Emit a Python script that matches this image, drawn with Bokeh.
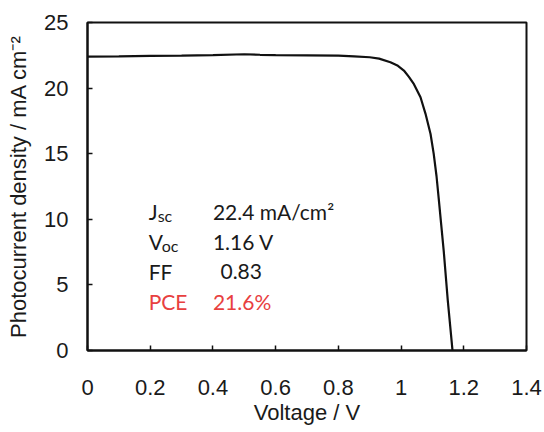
from bokeh.plotting import figure
from bokeh.models import FixedTicker, Range1d, ColumnDataSource
from bokeh.core.properties import value
from bokeh.embed import file_html
from bokeh.resources import INLINE

# ---- data ----
voltage = [0.0, 0.1, 0.2, 0.3, 0.4, 0.5, 0.55, 0.6, 0.7, 0.8, 0.85, 0.9, 0.93,
           0.966, 0.99, 1.009, 1.025, 1.041, 1.062, 1.078, 1.094, 1.104, 1.113,
           1.12, 1.128, 1.136, 1.149, 1.163, 1.17]
current = [22.4, 22.42, 22.45, 22.48, 22.52, 22.58, 22.54, 22.52, 22.5, 22.47,
           22.42, 22.35, 22.25, 21.97, 21.7, 21.34, 20.85, 20.3, 19.3, 18.04,
           16.5, 15.0, 13.3, 11.6, 9.6, 7.6, 3.8, 0.25, -1.5]

x_ticks = [0.0, 0.2, 0.4, 0.6, 0.8, 1.0, 1.2, 1.4]
x_tick_labels = ["0", "0.2", "0.4", "0.6", "0.8", "1", "1.2", "1.4"]
y_ticks = [0, 5, 10, 15, 20, 25]
y_tick_labels = ["0", "5", "10", "15", "20", "25"]

x_title = "Voltage / V"
y_title = "Photocurrent density / mA cm⁻²"

param_names = ["J", "V", "FF", "PCE"]
param_subs = ["sc", "oc", "", ""]
param_values = ["22.4 mA/cm²", "1.16 V", "0.83", "21.6%"]
param_colors = ["#1a1a1a", "#1a1a1a", "#1a1a1a", "#e8403f"]

# ---- layout constants ----
row_y = [10.6, 8.3, 6.0, 3.7]
name_x = [0.195, 0.195, 0.195, 0.195]
value_x = [0.40, 0.40, 0.424, 0.40]
sub_offset = [9, 13, 0, 0]

p = figure(width=544, height=432, output_backend="svg", toolbar_location=None,
           x_range=Range1d(0, 1.4), y_range=Range1d(0, 25),
           min_border_left=87, min_border_right=18, min_border_top=22,
           min_border_bottom=82,
           x_axis_label=x_title, y_axis_label=y_title)
p.background_fill_color = "white"
p.border_fill_color = "white"
p.grid.visible = False
p.outline_line_color = "#111111"
p.outline_line_width = 2
p.outline_line_alpha = 1

p.line(voltage, current, line_color="#111111", line_width=2.2)

for ax in (p.xaxis[0], p.yaxis[0]):
    ax.axis_line_color = "#111111"
    ax.axis_line_width = 2
    ax.major_tick_in = 5
    ax.major_tick_out = 0
    ax.major_tick_line_width = 1.5
    ax.major_tick_line_color = "#111111"
    ax.minor_tick_line_color = None
    ax.major_label_text_font = "Liberation Sans"
    ax.major_label_text_font_size = "22px"
    ax.major_label_text_color = "#1a1a1a"
    ax.axis_label_text_font = "Liberation Sans"
    ax.axis_label_text_font_style = "normal"
    ax.axis_label_text_color = "#1a1a1a"
    ax.axis_label_text_font_size = "22px"

p.xaxis[0].ticker = FixedTicker(ticks=x_ticks)
p.xaxis[0].major_label_overrides = dict(zip(x_ticks, x_tick_labels))
p.xaxis[0].major_label_standoff = 29
p.xaxis[0].axis_label_standoff = 2

p.yaxis[0].ticker = FixedTicker(ticks=y_ticks)
p.yaxis[0].major_label_overrides = dict(zip(y_ticks, y_tick_labels))
p.yaxis[0].major_label_standoff = 19
p.yaxis[0].axis_label_standoff = 10

src = ColumnDataSource(dict(nx=name_x, vx=value_x, y=row_y, name=param_names,
                            sub=param_subs, val=param_values, col=param_colors,
                            so=sub_offset))
p.text(x="nx", y="y", text="name", source=src, text_color="col",
       text_font=value("Lato"), text_font_size="21px",
       text_baseline="alphabetic", text_align="left")
p.text(x="nx", y="y", text="sub", source=src, text_color="col", x_offset="so",
       y_offset=4, text_font=value("Lato"), text_font_size="16px",
       text_baseline="alphabetic", text_align="left")
p.text(x="vx", y="y", text="val", source=src, text_color="col",
       text_font=value("Lato"), text_font_size="21px",
       text_baseline="alphabetic", text_align="left")

open("out.html", "w").write(file_html(p, INLINE))
